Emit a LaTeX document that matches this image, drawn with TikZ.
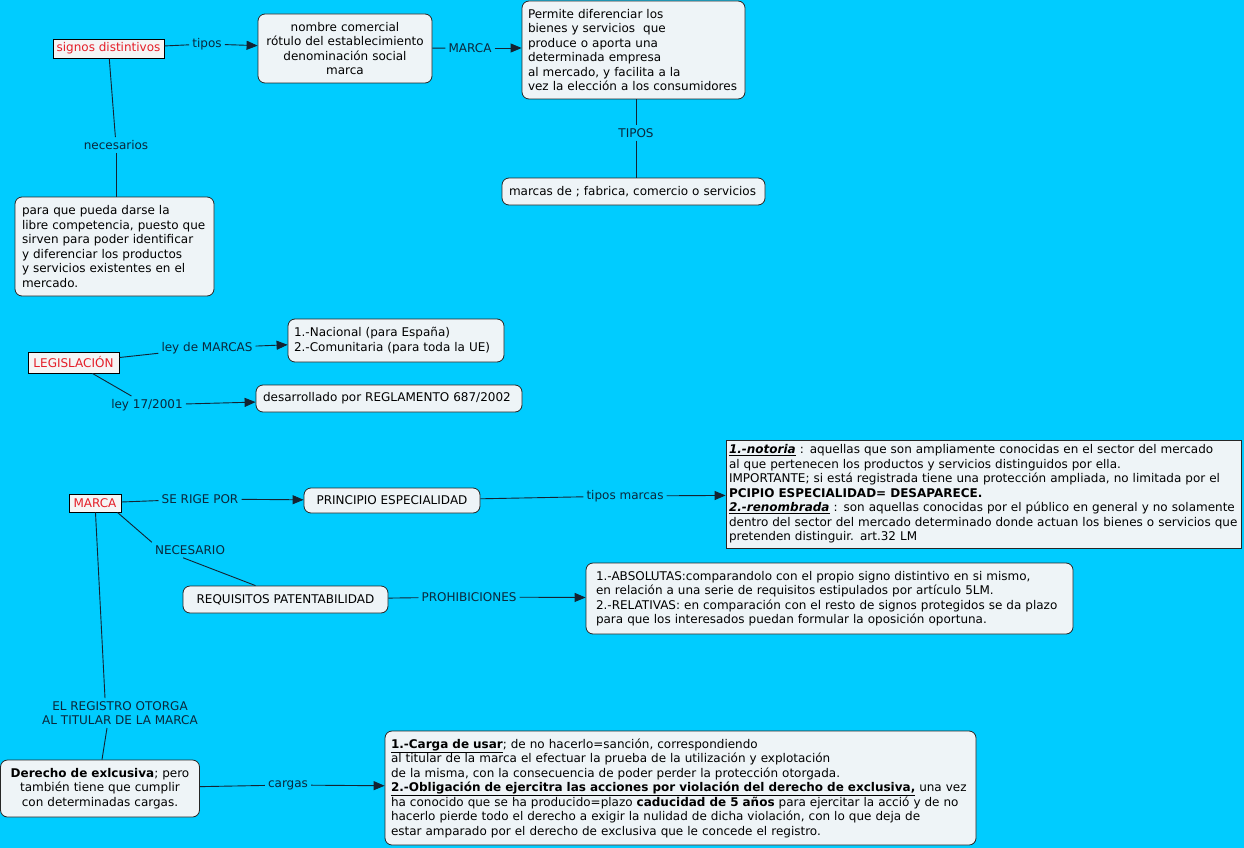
\documentclass[tikz,border=0pt]{standalone}
\usepackage{fontspec}
\setmainfont{DejaVu Sans}
\usetikzlibrary{arrows.meta,calc}
\definecolor{bg}{RGB}{0,204,255}
\definecolor{boxfill}{RGB}{238,244,247}
\definecolor{redt}{RGB}{228,30,40}
\definecolor{lblc}{RGB}{10,40,60}
\definecolor{linec}{RGB}{20,35,50}
\newcommand\fs{\fontsize{12}{14.5}\selectfont}
\begin{document}
\begin{tikzpicture}[x=1pt,y=-1pt,
 box/.style={draw=black!85, fill=boxfill, rounded corners=7pt, line width=0.8pt, inner xsep=8pt, inner ysep=0pt, font=\fs, text=black},
 sqbox/.style={box, rounded corners=0pt},
 redbox/.style={draw=black, fill=white!96!black, line width=0.8pt, inner sep=0pt, font=\fs, text=redt},
 lbl/.style={font=\fs, text=lblc, inner sep=3pt, align=center},
 conn/.style={draw=linec, line width=0.9pt},
 arr/.style={conn, -{Triangle[length=11pt,width=9pt]}}
]
\path[fill=bg] (0,0) rectangle (1244,848);
\useasboundingbox (0,0) rectangle (1244,848);

% top section
\node[redbox, minimum width=111pt, minimum height=19pt] (sig) at (108.5,48.5) {signos distintivos};
\node[box, minimum width=174pt, minimum height=69pt, text width=166pt, inner xsep=4pt, align=center] (nom) at (345,48.5)
 {nombre comercial\\rótulo del establecimiento\\denominación social\\marca};
\node[box, minimum width=223pt, minimum height=98pt, text width=211pt, inner xsep=6pt, align=left] (per) at (633.5,50)
 {Permite diferenciar los\\bienes y servicios\ \ que\\produce o aporta una\\determinada empresa\\al mercado, y facilita a la\\vez la elección a los consumidores};
\node[box, minimum width=263pt, minimum height=27pt, text width=249pt, inner xsep=7pt, align=left] (mde) at (633.5,191.5)
 {marcas de ; fabrica, comercio o servicios};
\node[box, minimum width=199pt, minimum height=99pt, text width=185pt, inner xsep=7pt, align=left] (para) at (114.5,246.5)
 {para que pueda darse la\\libre competencia, puesto que\\sirven para poder identificar\\y diferenciar los productos\\y servicios existentes en el\\mercado.};

\node[lbl] (ltipos) at (207,44) {tipos};
\node[lbl] (lmarca) at (470,48) {MARCA};
\node[lbl] (lnec) at (116,145) {necesarios};
\node[lbl] (lTIPOS) at (636,133) {TIPOS};

\draw[conn] (sig) -- (ltipos);
\draw[arr] (ltipos) -- (nom);
\draw[conn] (nom) -- (lmarca);
\draw[arr] (lmarca) -- (per.west |- lmarca);
\draw[conn] (sig) -- (lnec);
\draw[conn] (lnec) -- (lnec |- para.north);
\draw[conn] (per.south -| lTIPOS) -- (lTIPOS);
\draw[conn] (lTIPOS) -- (lTIPOS |- mde.north);

% legislacion
\node[redbox, minimum width=91pt, minimum height=21pt] (leg) at (73.5,362.5) {LEGISLACIÓN};
\node[box, minimum width=216pt, minimum height=43pt, text width=204pt, inner xsep=6pt, align=left] (nac) at (396,340.5)
 {1.-Nacional (para España)\\2.-Comunitaria (para toda la UE)};
\node[box, minimum width=266pt, minimum height=27pt, text width=252pt, inner xsep=7pt, align=left] (des) at (389,398.5)
 {desarrollado por REGLAMENTO 687/2002};
\node[lbl] (lley) at (207,348) {ley de MARCAS};
\node[lbl] (l17) at (147,405) {ley 17/2001};
\draw[conn] (leg) -- (lley);
\draw[arr] (lley) -- (nac);
\draw[conn] (leg) -- (l17);
\draw[arr] (l17) -- (des);

% marca
\node[redbox, minimum width=52pt, minimum height=18pt] (mar) at (95,503) {MARCA};
\node[box, minimum width=176pt, minimum height=25pt, align=center] (pri) at (392,500.5) {PRINCIPIO ESPECIALIDAD};
\node[sqbox, minimum width=515pt, minimum height=108pt, text width=509pt, inner xsep=3pt, align=left] (not) at (983.5,494)
 {\textbf{\textit{\underline{1.-notoria}}} : aquellas que son ampliamente conocidas en el sector del mercado\\
 al que pertenecen los productos y servicios distinguidos por ella.\\
 IMPORTANTE; si está registrada tiene una protección ampliada, no limitada por el\\
 \textbf{PCIPIO ESPECIALIDAD= DESAPARECE.}\\
 \textbf{\textit{\underline{2.-renombrada}}} : son aquellas conocidas por el público en general y no solamente\\
 dentro del sector del mercado determinado donde actuan los bienes o servicios que\\
 pretenden distinguir. art.32 LM};
\node[box, minimum width=205pt, minimum height=27pt, align=center] (req) at (285.5,599.5) {REQUISITOS PATENTABILIDAD};
\node[box, minimum width=487pt, minimum height=71pt, text width=467pt, inner xsep=10pt, align=left] (abs) at (829.5,598.5)
 {1.-ABSOLUTAS:comparandolo con el propio signo distintivo en si mismo,\\
 en relación a una serie de requisitos estipulados por artículo 5LM.\\
 2.-RELATIVAS: en comparación con el resto de signos protegidos se da plazo\\
 para que los interesados puedan formular la oposición oportuna.};
\node[box, minimum width=199pt, minimum height=57pt, text width=191pt, inner xsep=4pt, align=center] (der) at (100,788.5)
 {\textbf{Derecho de exlcusiva}; pero\\también tiene que cumplir\\con determinadas cargas.};
\node[box, minimum width=591pt, minimum height=114pt, text width=579pt, inner xsep=6pt, align=left] (car) at (680.5,788)
 {\textbf{\underline{1.-Carga de usar}}; de no hacerlo=sanción, correspondiendo\\
 al titular de la marca el efectuar la prueba de la utilización y explotación\\
 de la misma, con la consecuencia de poder perder la protección otorgada.\\
 \textbf{\underline{2.-Obligación de ejercitra las acciones por violación del derecho de exclusiva,}} una vez\\
 ha conocido que se ha producido=plazo \textbf{caducidad de 5 años} para ejercitar la acció y de no\\
 hacerlo pierde todo el derecho a exigir la nulidad de dicha violación, con lo que deja de\\
 estar amparado por el derecho de exclusiva que le concede el registro.};

\node[lbl] (lrige) at (200,499) {SE RIGE POR};
\node[lbl] (ltm) at (625,496) {tipos marcas};
\node[lbl] (lNEC) at (190,550) {NECESARIO};
\node[lbl] (lpro) at (469,597) {PROHIBICIONES};
\node[lbl] (lreg) at (120,713) {EL REGISTRO OTORGA\\AL TITULAR DE LA MARCA};
\node[lbl] (lcar) at (288,785) {cargas};

\draw[conn] (mar) -- (lrige);
\draw[arr] (lrige) -- (pri);
\draw[conn] (pri) -- (ltm);
\draw[arr] (ltm) -- (not);
\draw[conn] ([xshift=-4pt]mar.south east) -- (lNEC.north west);
\draw[conn] ([xshift=-7pt]lNEC.south) -- ([xshift=-30pt]req.north);
\draw[conn] (req) -- (lpro);
\draw[arr] (lpro) -- (abs);
\draw[conn] (mar) -- ([xshift=-15pt]lreg.north);
\draw[conn] ([xshift=-13pt]lreg.south) -- ([xshift=2pt]der.north);
\draw[conn] (der) -- (lcar);
\draw[arr] (lcar) -- (car);
\end{tikzpicture}
\end{document}
